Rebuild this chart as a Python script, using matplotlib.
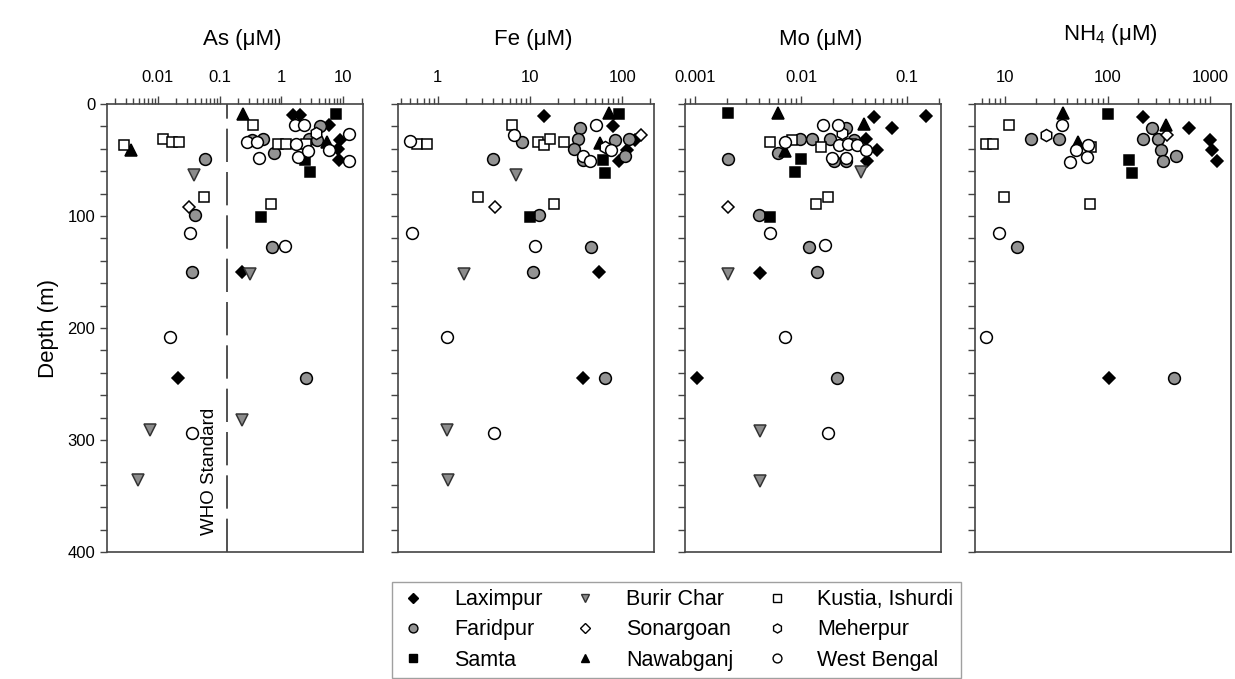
import matplotlib
matplotlib.use("Agg")
import matplotlib.pyplot as plt
from matplotlib.lines import Line2D
from matplotlib.ticker import FixedLocator, LogLocator, NullFormatter, MultipleLocator

plt.rcParams['font.family'] = ['Liberation Sans', 'DejaVu Sans']
plt.rcParams['mathtext.fontset'] = 'custom'
plt.rcParams['mathtext.rm'] = 'Liberation Sans'

SITES = ['Laximpur', 'Faridpur', 'Samta', 'Burir Char', 'Sonargoan',
         'Nawabganj', 'Kustia, Ishurdi', 'Meherpur', 'West Bengal']

# (concentration uM, depth m)
AS_LAXIMPUR = [(1.52, 10), (2.03, 10), (6.0, 19), (9.0, 32), (8.2, 40), (8.7, 50), (0.23, 150), (0.021, 245)]
AS_FARIDPUR = [(4.3, 20), (2.84, 31), (3.8, 32), (0.34, 32), (0.50, 31), (0.77, 44), (0.059, 49),
               (0.040, 99), (0.70, 128), (0.036, 150), (2.5, 245)]
AS_SAMTA = [(7.7, 9), (2.42, 50), (2.95, 61), (0.46, 101)]
AS_BURIR = [(0.038, 63), (0.31, 152), (0.227, 282), (0.0075, 291), (0.0048, 336)]
AS_SONAR = [(0.0315, 92)]
AS_NAWAB = [(0.24, 9), (5.5, 34), (0.0037, 41)]
AS_KUSTIA = [(0.35, 19), (0.0028, 37), (0.0122, 31), (0.0167, 34), (0.0222, 34), (0.89, 36),
             (1.19, 36), (2.51, 36), (0.056, 83), (0.68, 89)]
AS_MEHER = [(3.65, 26)]
AS_WB = [(1.67, 19), (2.29, 19), (12.3, 27), (0.28, 34), (0.40, 34), (1.73, 36), (0.44, 48),
         (1.84, 47), (5.85, 41), (2.7, 42), (12.3, 51), (0.033, 115), (1.16, 127), (0.0159, 208), (0.036, 294)]

FE_LAXIMPUR = [(14.0, 11), (80, 20), (138, 32), (111, 41), (91, 51), (56, 150), (37, 245)]
FE_FARIDPUR = [(35, 21), (8.2, 34), (33, 31), (30, 40), (37, 50), (84, 32), (106, 46), (119, 31),
               (3.96, 49), (12.6, 99), (46, 128), (10.7, 150), (64, 245)]
FE_SAMTA = [(91, 9), (62, 50), (65, 62), (10, 101)]
FE_BURIR = [(7.1, 63), (1.91, 152), (1.26, 291), (1.29, 336)]
FE_SONAR = [(159, 28), (4.13, 92)]
FE_NAWAB = [(71, 8), (57, 35)]
FE_KUSTIA = [(6.4, 19), (12.2, 34), (14.1, 37), (16.3, 31), (23, 34), (0.59, 36), (0.77, 36),
             (2.73, 83), (18, 89)]
FE_MEHER = [(65, 38)]
FE_WB = [(52, 19), (6.7, 28), (37, 46), (45, 51), (75, 41), (0.50, 33), (0.53, 115), (11.4, 127),
         (1.27, 208), (4.06, 294)]

MO_LAXIMPUR = [(0.0486, 12), (0.072, 21), (0.15, 11), (0.041, 31), (0.0525, 41), (0.042, 51),
               (0.0041, 151), (0.00104, 245)]
MO_FARIDPUR = [(0.0267, 21), (0.0098, 31), (0.0128, 31), (0.0187, 31), (0.0316, 32), (0.006, 44),
               (0.0205, 51), (0.0265, 51), (0.00205, 49), (0.004, 99), (0.012, 128), (0.014, 150), (0.022, 245)]
MO_SAMTA = [(0.00205, 8), (0.01, 49.5), (0.0088, 61), (0.00505, 101)]
MO_BURIR = [(0.0365, 61), (0.00205, 152), (0.0041, 292), (0.0041, 337)]
MO_SONAR = [(0.00205, 92)]
MO_NAWAB = [(0.006, 8), (0.039, 18), (0.007, 42)]
MO_KUSTIA = [(0.00505, 34), (0.0082, 32), (0.0154, 38), (0.0294, 36), (0.0138, 89), (0.018, 83)]
MO_MEHER = [(0.0245, 26)]
MO_WB = [(0.016, 19), (0.0225, 19), (0.0071, 34), (0.0228, 37), (0.0279, 36), (0.034, 37),
         (0.0407, 41), (0.0195, 48), (0.0268, 48), (0.00505, 115), (0.0168, 126), (0.0071, 208), (0.018, 294)]

NH4_LAXIMPUR = [(224, 12), (625, 21), (995, 32), (1050, 41), (1180, 51), (103, 245)]
NH4_FARIDPUR = [(272, 21), (17.8, 31), (34, 31), (224, 31), (309, 31), (333, 41), (345, 51),
                (464, 46), (13.2, 128), (445, 245)]
NH4_SAMTA = [(101, 9), (161, 50), (174, 62)]
NH4_BURIR = []
NH4_SONAR = [(377, 28)]
NH4_NAWAB = [(37, 8), (370, 19), (51.5, 34)]
NH4_KUSTIA = [(11, 19), (6.5, 36), (7.7, 36), (69, 38), (9.8, 83), (67, 89)]
NH4_MEHER = [(25.4, 28)]
NH4_WB = [(36, 19), (49.6, 41), (64.5, 37), (63, 47), (42.8, 52), (8.7, 115), (6.5, 208)]

PANELS = [
    ('As (μM)', [AS_LAXIMPUR, AS_FARIDPUR, AS_SAMTA, AS_BURIR, AS_SONAR, AS_NAWAB, AS_KUSTIA, AS_MEHER, AS_WB],
     (0.0015, 21), [0.01, 0.1, 1, 10], ['0.01', '0.1', '1', '10']),
    ('Fe (μM)', [FE_LAXIMPUR, FE_FARIDPUR, FE_SAMTA, FE_BURIR, FE_SONAR, FE_NAWAB, FE_KUSTIA, FE_MEHER, FE_WB],
     (0.37, 220), [1, 10, 100], ['1', '10', '100']),
    ('Mo (μM)', [MO_LAXIMPUR, MO_FARIDPUR, MO_SAMTA, MO_BURIR, MO_SONAR, MO_NAWAB, MO_KUSTIA, MO_MEHER, MO_WB],
     (0.0008, 0.21), [0.001, 0.01, 0.1], ['0.001', '0.01', '0.1']),
    ('NH$_4$ (μM)', [NH4_LAXIMPUR, NH4_FARIDPUR, NH4_SAMTA, NH4_BURIR, NH4_SONAR, NH4_NAWAB, NH4_KUSTIA, NH4_MEHER, NH4_WB],
     (5.1, 1600), [10, 100, 1000], ['10', '100', '1000']),
]
WHO_AS = 0.133

# marker, face, edge, size
STYLE = {
    'Laximpur': ('D', 'black', 'black', 6.3),
    'Faridpur': ('o', '#939393', 'black', 8.5),
    'Samta': ('s', 'black', 'black', 7.3),
    'Burir Char': ('v', '#8c8c8c', '#333333', 8.0),
    'Sonargoan': ('D', 'white', 'black', 6.3),
    'Nawabganj': ('^', 'black', 'black', 8.0),
    'Kustia, Ishurdi': ('s', 'white', 'black', 7.3),
    'Meherpur': ('h', 'white', 'black', 8.7),
    'West Bengal': ('o', 'white', 'black', 8.5),
}

fig = plt.figure(figsize=(12.35, 6.79), dpi=100)
lefts = [107, 398, 685, 975]
spine_c = '#444444'

for i, (title, data, xlim, ticks, ticklabels) in enumerate(PANELS):
    ax = fig.add_axes([lefts[i] / 1235, 127 / 679, 256 / 1235, 448 / 679])
    for site, pts in zip(SITES, data):
        if not pts:
            continue
        xs, ds = zip(*pts)
        m, fc, ec, ms = STYLE[site]
        ax.plot(xs, ds, linestyle='none', marker=m, markerfacecolor=fc,
                markeredgecolor=ec, markersize=ms, markeredgewidth=1.1, zorder=3)
    ax.set_xscale('log')
    ax.set_xlim(*xlim)
    ax.set_ylim(400, 0)
    ax.xaxis.tick_top()
    ax.xaxis.set_major_locator(FixedLocator(ticks))
    ax.set_xticklabels(ticklabels)
    ax.xaxis.set_minor_locator(LogLocator(base=10, subs=range(2, 10), numticks=20))
    ax.xaxis.set_minor_formatter(NullFormatter())
    ax.yaxis.set_major_locator(MultipleLocator(100))
    ax.yaxis.set_minor_locator(MultipleLocator(20))
    ax.tick_params(axis='x', which='major', length=6, width=1, color=spine_c, labelsize=12, pad=8)
    ax.tick_params(axis='x', which='minor', length=4, width=1, color=spine_c)
    ax.tick_params(axis='y', which='both', length=5, width=1, color=spine_c, labelsize=12)
    if i > 0:
        ax.tick_params(axis='y', labelleft=False)
    for sp in ax.spines.values():
        sp.set_color(spine_c)
        sp.set_linewidth(1.2)
    ty = 1.155 if i == 3 else 1.145
    ax.text(0.53, ty, title, transform=ax.transAxes, ha='center', va='center', fontsize=16)
    if i == 0:
        ax.set_ylabel('Depth (m)', fontsize=16, labelpad=6)
        ax.axvline(WHO_AS, color='#333333', linewidth=1.2, dashes=(20, 6), zorder=2)
        ax.text(0.068, 328, 'WHO Standard', rotation=90, ha='center', va='center', fontsize=13.5)

handles = []
for site in SITES:
    m, fc, ec, ms = STYLE[site]
    handles.append(Line2D([], [], linestyle='none', marker=m, markerfacecolor=fc,
                          markeredgecolor=ec, markersize=ms * 0.75, markeredgewidth=1.0))
leg = fig.legend(handles, SITES, ncol=3, loc='upper center', bbox_to_anchor=(0.548, 0.143),
                 fontsize=15.5, frameon=True, fancybox=False, edgecolor='#888888',
                 handlelength=1.2, handletextpad=1.3, columnspacing=1.4, labelspacing=0.42,
                 borderpad=0.35, borderaxespad=0.0)
leg.get_frame().set_linewidth(1.0)

fig.savefig('out.png', dpi=100)
